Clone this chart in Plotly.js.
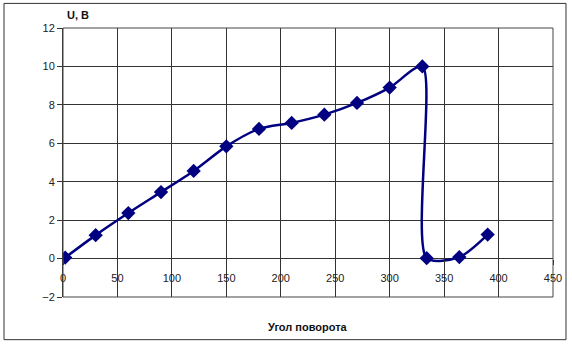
<!DOCTYPE html>
<html>
<head>
<meta charset="utf-8">
<script src="https://cdn.plot.ly/plotly-3.0.1.min.js"></script>
<style>html,body{margin:0;padding:0;background:#fff;}#chart{width:572px;height:344px;}</style>
</head>
<body>
<div id="chart"></div>
<script>
const angles = [2, 30, 60, 90, 120, 150, 180, 210, 240, 270, 300, 330, 334, 364, 390];
const voltage = [0.05, 1.22, 2.37, 3.46, 4.56, 5.84, 6.75, 7.06, 7.49, 8.1, 8.9, 10.0, 0.02, 0.08, 1.25];
const xTitle = "Угол поворота";
const yTitle = "U, B";

const trace = {
  x: angles, y: voltage, type: 'scatter', mode: 'lines+markers',
  line: {color: '#000080', width: 2.5, shape: 'spline', smoothing: 0.75},
  marker: {symbol: 'diamond', size: 11, color: '#000080'},
  hoverinfo: 'skip'
};
const fnt = {family: 'Liberation Sans, Arial, sans-serif', size: 11, color: '#222'};
const layout = {
  width: 572, height: 344,
  margin: {l: 63, r: 19, t: 28, b: 47, pad: 0},
  paper_bgcolor: '#fff', plot_bgcolor: '#fff',
  showlegend: false,
  font: fnt,
  xaxis: {
    range: [0, 450], dtick: 50, tick0: 0,
    anchor: 'free', position: 2/14,
    showgrid: true, gridcolor: '#333', gridwidth: 1,
    zeroline: false, showline: false,
    ticks: 'outside', ticklen: 5, tickcolor: '#333',
    ticklabelstandoff: 4,
    tickfont: fnt, fixedrange: true
  },
  yaxis: {
    range: [-2, 12], dtick: 2, tick0: 0,
    showgrid: true, gridcolor: '#333', gridwidth: 1,
    zeroline: false, showline: true, linecolor: '#333', linewidth: 1,
    ticks: 'outside', ticklen: 5, tickcolor: '#333',
    tickfont: fnt, fixedrange: true
  },
  annotations: [
    {text: '<b>' + yTitle + '</b>', xref: 'paper', yref: 'paper', x: 0.005, y: 1.02, xanchor: 'left', yanchor: 'bottom', showarrow: false,
     font: {family: 'Liberation Sans, Arial, sans-serif', size: 11, color: '#111'}},
    {text: '<b>' + xTitle + '</b>', xref: 'paper', yref: 'paper', x: 0.5, y: -0.08, xanchor: 'center', yanchor: 'top', showarrow: false,
     font: {family: 'Liberation Sans, Arial, sans-serif', size: 11, color: '#111'}}
  ],
  shapes: [
    {type: 'rect', xref: 'paper', yref: 'paper', x0: 0, x1: 1, y0: 0, y1: 1, line: {color: '#444', width: 1}},
    {type: 'rect', xref: 'paper', yref: 'paper', x0: -0.1204, x1: 1.0265, y0: -0.1586, y1: 1.0914, line: {color: '#333', width: 1}}
  ]
};
Plotly.newPlot('chart', [trace], layout, {displayModeBar: false, staticPlot: true});
</script>
</body>
</html>
